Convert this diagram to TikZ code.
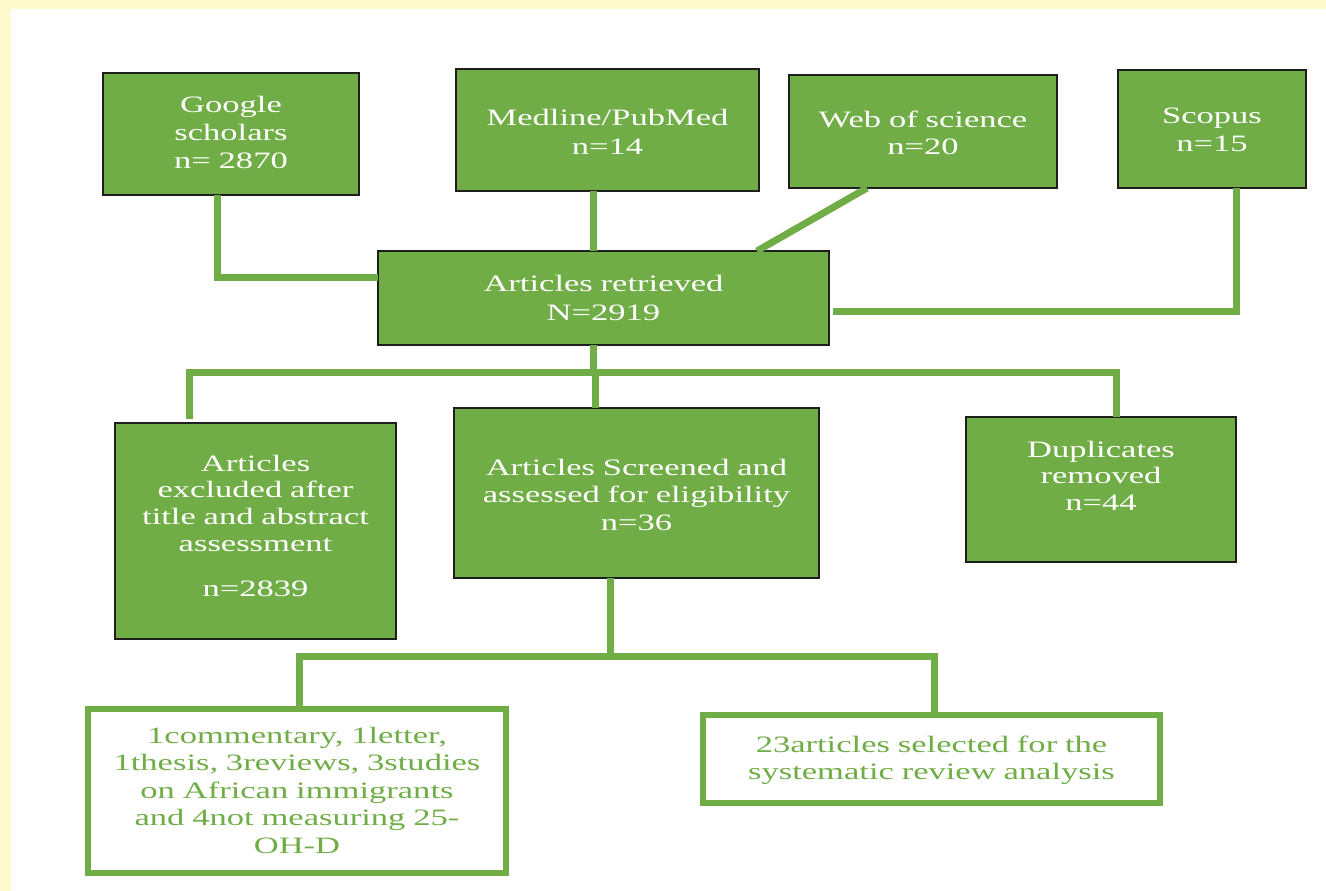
\documentclass[tikz,border=0pt]{standalone}
\usepackage{fontspec}
\setmainfont{Liberation Serif}[FakeStretch=1.47]
\usetikzlibrary{calc}
\definecolor{bgyellow}{RGB}{255,250,205}
\definecolor{boxgreen}{RGB}{112,173,71}
\definecolor{edgedark}{RGB}{30,30,30}
\newcommand{\fs}[1]{\fontsize{23.5}{#1}\selectfont}
\begin{document}
\begin{tikzpicture}[x=1pt,y=-1pt,
  gbox/.style={draw=edgedark, line width=1.5pt, fill=boxgreen, text=white, inner sep=0pt, outer sep=0pt, align=center, anchor=north west},
  wbox/.style={draw=boxgreen, line width=6pt, fill=white, text=boxgreen, inner sep=0pt, outer sep=0pt, align=center, anchor=north west},
  conn/.style={draw=boxgreen, line width=7pt}]
\fill[bgyellow] (0,0) rectangle (1326,891);
\fill[white] (11,9) rectangle (1326,891);
\useasboundingbox (0,0) rectangle (1326,891);

% top row
\node[gbox, font=\fs{27.5}, text width=256pt, text height=40pt, text depth=82pt] (google) at (103,73) {Google\\scholars\\n= 2870};
\node[gbox, font=\fs{29}, text width=303pt, text height=56pt, text depth=66pt] (medline) at (456,69) {Medline/PubMed\\n=14};
\node[gbox, font=\fs{28}, text width=268pt, text height=52pt, text depth=61pt] (web) at (789,75) {Web of science\\n=20};
\node[gbox, font=\fs{28}, text width=188pt, text height=54pt, text depth=64pt] (scopus) at (1118,70) {Scopus\\n=15};

% retrieved
\node[gbox, font=\fs{29}, text width=451pt, text height=40pt, text depth=54pt] (retrieved) at (378,251) {Articles retrieved\\N=2919};

% middle row
\node[gbox, font=\fs{26.7}, text width=281pt, text height=48pt, text depth=168pt] (excluded) at (115,423) {Articles\\excluded after\\title and abstract\\assessment\\[19pt]n=2839};
\node[gbox, font=\fs{27.5}, text width=365pt, text height=67pt, text depth=103pt] (screened) at (454,408) {Articles Screened and\\assessed for eligibility\\n=36};
\node[gbox, font=\fs{26.5}, text width=270pt, text height=40pt, text depth=105pt] (duplicates) at (966,417) {Duplicates\\removed\\n=44};

% bottom row
\node[wbox, font=\fs{27.5}, text width=418pt, text height=34pt, text depth=130pt] (others) at (88,709) {1commentary, 1letter,\\1thesis, 3reviews, 3studies\\on African immigrants\\and 4not measuring 25-\\OH-D};
\node[wbox, font=\fs{27}, text width=457pt, text height=37pt, text depth=51pt] (selected) at (703,715) {23articles selected for the\\systematic review analysis};

% connectors to retrieved
\draw[conn] ([xshift=-13.5pt]google.south) |- ([yshift=20.5pt]retrieved.west);
\draw[conn] ([xshift=-14.5pt]medline.south) -- ([xshift=-14.5pt]medline.south |- retrieved.north);
\draw[conn] ([xshift=-56pt]web.south) -- ([xshift=153.5pt]retrieved.north);
\draw[conn] ([xshift=24.5pt]scopus.south) |- ([xshift=4pt,yshift=-13pt]retrieved.east);

% fan from retrieved
\coordinate (hub1) at ([xshift=-10pt,yshift=-27pt]retrieved.south);
\draw[conn] ([xshift=-10pt]retrieved.south) -- (hub1);
\draw[conn, shorten <=4pt] ([xshift=-66pt]excluded.north) |- (hub1);
\draw[conn] ([xshift=15.5pt]duplicates.north) |- (hub1);
\draw[conn] ([xshift=-41.5pt]screened.north) -- ([xshift=-41.5pt]screened.north |- hub1);

% fan from screened
\coordinate (hub2) at ([xshift=-26.5pt,yshift=-78pt]screened.south);
\draw[conn] ([xshift=-26.5pt]screened.south) -- (hub2);
\draw[conn] ([xshift=2pt,yshift=3pt]others.north) |- (hub2);
\draw[conn] ([xshift=2.5pt,yshift=3pt]selected.north) |- (hub2);
\end{tikzpicture}
\end{document}
